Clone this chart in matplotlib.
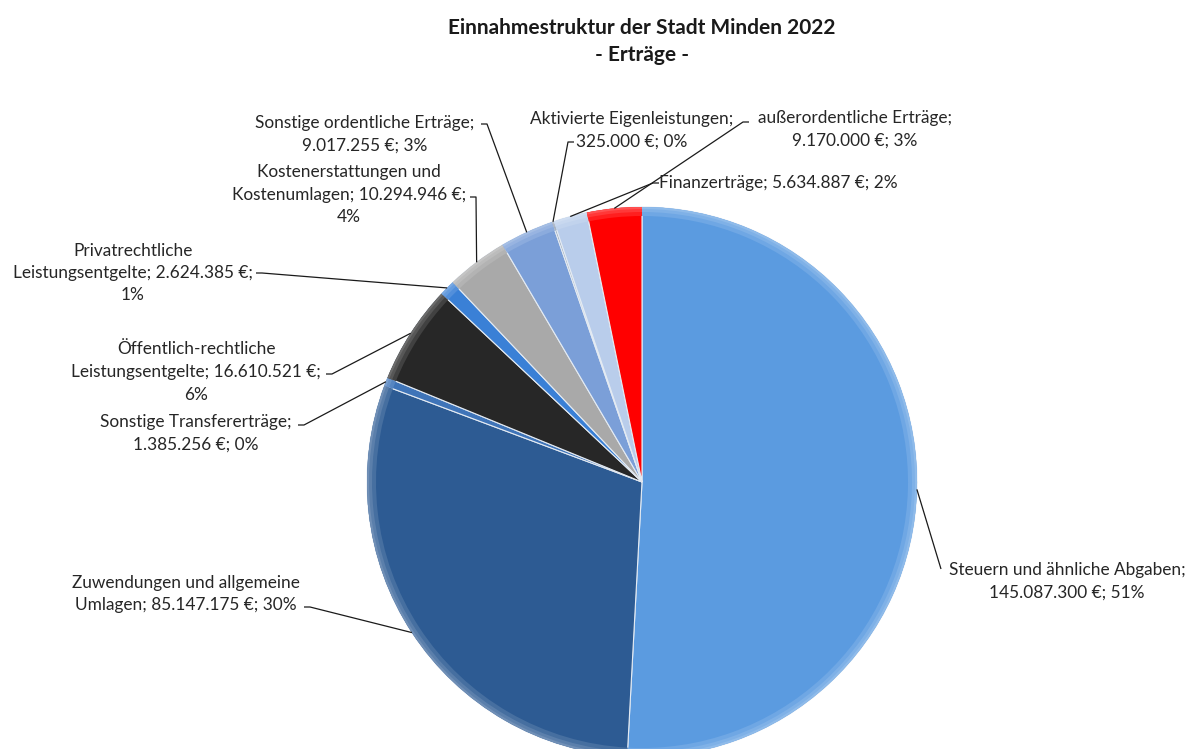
import matplotlib.pyplot as plt
import matplotlib.colors as mcolors
from matplotlib.patches import Wedge
import numpy as np

plt.rcParams['font.family'] = ['Lato', 'DejaVu Sans']

# data (order as in the source table, drawn clockwise from 12 o'clock)
categories = [
    "Steuern und ähnliche Abgaben",
    "Zuwendungen und allgemeine Umlagen",
    "Sonstige Transfererträge",
    "Öffentlich-rechtliche Leistungsentgelte",
    "Privatrechtliche Leistungsentgelte",
    "Kostenerstattungen und Kostenumlagen",
    "Sonstige ordentliche Erträge",
    "Aktivierte Eigenleistungen",
    "Finanzerträge",
    "außerordentliche Erträge",
]
values = [145087300, 85147175, 1385256, 16610521, 2624385,
          10294946, 9017255, 325000, 5634887, 9170000]
colors = ["#5b9be0", "#2d5b93", "#3f74b8", "#272727", "#3a80d6",
          "#a9a9a9", "#7b9fd8", "#9aa7b8", "#b9cdeb", "#ff0000"]

# label text (line breaks as in the chart)
label_texts = [
    "Steuern und ähnliche Abgaben;\n145.087.300 €; 51%",
    "Zuwendungen und allgemeine\nUmlagen; 85.147.175 €; 30%",
    "Sonstige Transfererträge;\n1.385.256 €; 0%",
    "Öffentlich-rechtliche\nLeistungsentgelte; 16.610.521 €;\n6%",
    "Privatrechtliche\nLeistungsentgelte; 2.624.385 €;\n1%",
    "Kostenerstattungen und\nKostenumlagen; 10.294.946 €;\n4%",
    "Sonstige ordentliche Erträge;\n9.017.255 €; 3%",
    "Aktivierte Eigenleistungen;\n325.000 €; 0%",
    "Finanzerträge; 5.634.887 €; 2%",
    "außerordentliche Erträge;\n9.170.000 €; 3%",
]

# layout in pixels (y down)
W, H = 1194, 749
cx, cy, R = 642, 482, 275
label_xy = [(1067, 581), (186, 594), (196, 433), (196, 372), (133, 273),
            (349, 195), (365, 134), (632, 130), (778, 183), (855, 129)]
anchor_xy = [(941, 569), (304, 607), (298, 425), (326, 374), (256, 273),
             (470, 197), (481, 124), (574, 142), (659, 183), (749, 122)]
elbow_xy = [(941, 569), (310, 607), (304, 425), (332, 374), (262, 273),
            (476, 197), (487, 124), (568, 142), (653, 183), (743, 122)]

fig = plt.figure(figsize=(11.94, 7.49), dpi=100)
ax = fig.add_axes([0, 0, 1, 1])

wedges, _ = ax.pie(values, colors=colors, startangle=-90, counterclock=True,
                   radius=R, center=(cx, cy),
                   wedgeprops=dict(edgecolor="#e4ebf3", linewidth=0.8))

# light rim to mimic the bevel
for w, c in zip(wedges, colors):
    rgb = np.array(mcolors.to_rgb(c))
    for width, k in [(9, 0.12), (5, 0.22), (2, 0.32)]:
        light = rgb + (1 - rgb) * k
        ax.add_patch(Wedge((cx, cy), R, w.theta1, w.theta2, width=width,
                           facecolor=light, edgecolor="none"))

# labels and leader lines
for w, txt, (lx, ly), (ax_, ay_), (ex, ey) in zip(
        wedges, label_texts, label_xy, anchor_xy, elbow_xy):
    mid = np.deg2rad((w.theta1 + w.theta2) / 2)
    px, py = cx + R * np.cos(mid), cy + R * np.sin(mid)
    ax.plot([px, ex, ax_], [py, ey, ay_], color="#1a1a1a", lw=0.9,
            solid_capstyle="butt")
    ax.text(lx, ly, txt, ha="center", va="center", fontsize=12.4,
            color="#262626", linespacing=1.5)

ax.text(cx, 28, "Einnahmestruktur der Stadt Minden 2022", ha="center",
        va="center", fontsize=15, fontweight="bold", color="#1a1a1a")
ax.text(cx, 55, "- Erträge -", ha="center", va="center", fontsize=15,
        fontweight="bold", color="#1a1a1a")

ax.set_xlim(0, W)
ax.set_ylim(H, 0)
ax.set_aspect("equal")
ax.axis("off")

fig.savefig("out.png", dpi=100)
